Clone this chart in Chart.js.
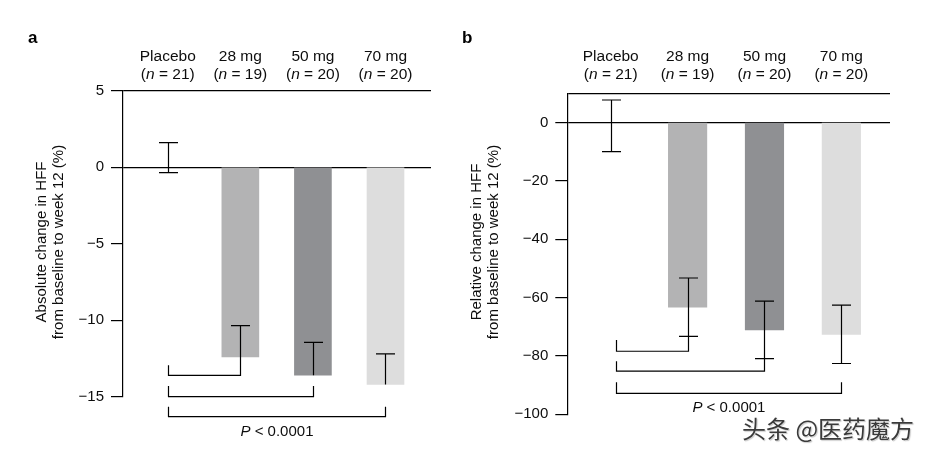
<!DOCTYPE html>
<html>
<head>
<meta charset="utf-8">
<script src="https://cdn.jsdelivr.net/npm/chart.js@4"></script>
<style>
  body { margin: 0; background: #fff; width: 927px; height: 454px; position: relative; overflow: hidden; }
  canvas { position: absolute; top: 0; }
  #chart-a { left: 0; }
  #chart-b { left: 450px; }
  #mark {
    position: absolute; left: 742px; top: 414px;
    font: 24px "Noto Sans CJK SC", sans-serif; line-height: 28px;
    color: #3a3a3a; text-shadow: 0 0 2px #fff, 1px 1px 1px #bbb;
    white-space: nowrap;
  }
</style>
</head>
<body>
<canvas id="chart-a" width="450" height="454" style="width:450px;height:454px"></canvas>
<canvas id="chart-b" width="477" height="454" style="width:477px;height:454px"></canvas>
<div id="mark">头条 @医药魔方</div>
<script>
// groups shown above the bars
const groups = ['Placebo', '28 mg', '50 mg', '70 mg'];
const groupN = [21, 19, 20, 20];
const barColors = ['rgba(0,0,0,0)', '#b3b3b4', '#8f9093', '#dddddd'];

// panel a: absolute change in HFF (%)
const absMean = [0.63, -12.4, -13.6, -14.2];
const absErrUp = [0.98, 2.05, 2.15, 2.0];
const absErrDown = [0.98, 0, 0, 0];
const absTicks = [-15, -10, -5, 0, 5];
const absBracketLevel = [-13.6, -15.0, -16.3];
const absBracketLeftTop = [-12.95, -14.3, -15.65];
const absBracketRightTop = [-12.4, -14.3, -15.65];

// panel b: relative change in HFF (%)
const relMean = [-1.15, -63.3, -71.1, -72.6];
const relErrUp = [8.85, 10, 9.9, 10];
const relErrDown = [8.85, 10, 9.8, 10];
const relTicks = [-100, -80, -60, -40, -20, 0, 10];
const relBracketLevel = [-78.4, -85.2, -92.8];
const relBracketLeftTop = [-74.5, -81.8, -89];
const relBracketRightTop = [-73.3, -80.8, -89];

const FONT = '"Liberation Sans", Arial, sans-serif';
const INK = '#0d0d0d';
const minus = v => String(v).replace('-', '\u2212');

// error bars, comparison brackets, group labels, axis title
const panelPlugin = {
    id: 'panel',
    afterDatasetsDraw(chart, args, opts) {
        const ctx = chart.ctx;
        const xs = chart.scales.x;
        const ys = chart.scales.y;
        ctx.save();
        ctx.strokeStyle = '#000';
        ctx.lineWidth = 1.2;
        ctx.lineCap = 'butt';

        opts.mean.forEach((m, i) => {
            const x = Math.round(xs.getPixelForValue(i)) + 0.5;
            const yTop = ys.getPixelForValue(m + opts.errUp[i]);
            const yBot = ys.getPixelForValue(m - opts.errDown[i]);
            ctx.beginPath();
            ctx.moveTo(x, yTop);
            ctx.lineTo(x, yBot);
            ctx.moveTo(x - 9.5, yTop);
            ctx.lineTo(x + 9.5, yTop);
            if (opts.errDown[i] > 0) {
                ctx.moveTo(x - 9.5, yBot);
                ctx.lineTo(x + 9.5, yBot);
            }
            ctx.stroke();
        });

        // brackets: placebo against each dose
        const x0 = Math.round(xs.getPixelForValue(0) + opts.bracketShift) + 0.5;
        opts.level.forEach((lv, k) => {
            const x1 = Math.round(xs.getPixelForValue(k + 1)) + 0.5;
            const y = ys.getPixelForValue(lv);
            ctx.beginPath();
            ctx.moveTo(x0, ys.getPixelForValue(opts.leftTop[k]));
            ctx.lineTo(x0, y);
            ctx.lineTo(x1, y);
            ctx.lineTo(x1, ys.getPixelForValue(opts.rightTop[k]));
            ctx.stroke();
        });

        // P value under the widest bracket
        const last = opts.level.length;
        const pc = (x0 + xs.getPixelForValue(last)) / 2;
        const py = ys.getPixelForValue(opts.level[last - 1]) + 15;
        ctx.fillStyle = INK;
        ctx.textBaseline = 'middle';
        ctx.textAlign = 'left';
        ctx.font = 'italic 15px ' + FONT;
        const wP = ctx.measureText('P').width;
        ctx.font = '15px ' + FONT;
        const rest = ' < 0.0001';
        const wR = ctx.measureText(rest).width;
        let px = pc - (wP + wR) / 2;
        ctx.font = 'italic 15px ' + FONT;
        ctx.fillText('P', px, py);
        ctx.font = '15px ' + FONT;
        ctx.fillText(rest, px + wP, py);

        // group labels above the plot
        groups.forEach((g, i) => {
            const cx = xs.getPixelForValue(i);
            ctx.font = '15.5px ' + FONT;
            ctx.textAlign = 'center';
            ctx.fillText(g, cx, 57);
            const parts = [['(', false], ['n', true], [' = ' + groupN[i] + ')', false]];
            let w = 0;
            parts.forEach(p => {
                ctx.font = (p[1] ? 'italic ' : '') + '15.5px ' + FONT;
                w += ctx.measureText(p[0]).width;
            });
            let tx = cx - w / 2;
            ctx.textAlign = 'left';
            parts.forEach(p => {
                ctx.font = (p[1] ? 'italic ' : '') + '15.5px ' + FONT;
                ctx.fillText(p[0], tx, 75);
                tx += ctx.measureText(p[0]).width;
            });
        });

        // panel letter
        ctx.font = 'bold 17px ' + FONT;
        ctx.textAlign = 'left';
        ctx.fillStyle = '#000';
        ctx.fillText(opts.letter, opts.letterX, 38);

        // rotated y axis title
        ctx.fillStyle = INK;
        ctx.font = '15px ' + FONT;
        ctx.textAlign = 'center';
        opts.title.forEach((line, k) => {
            ctx.save();
            ctx.translate(opts.titleX[k], 242);
            ctx.rotate(-Math.PI / 2);
            ctx.fillText(line, 0, 0);
            ctx.restore();
        });
        ctx.restore();
    }
};

function makePanel(canvasId, cfg) {
    const ctx = document.getElementById(canvasId).getContext('2d');
    const top = cfg.ticks[cfg.ticks.length - 1];
    return new Chart(ctx, {
        type: 'bar',
        data: {
            datasets: [{
                data: cfg.mean.map((v, i) => ({ x: i, y: v })),
                backgroundColor: barColors,
                borderWidth: 0,
                barThickness: cfg.barThickness
            }]
        },
        options: {
            responsive: false,
            animation: false,
            layout: { padding: cfg.padding },
            plugins: {
                legend: { display: false },
                tooltip: { enabled: false },
                panel: {
                    mean: cfg.mean, errUp: cfg.errUp, errDown: cfg.errDown,
                    level: cfg.level, leftTop: cfg.leftTop, rightTop: cfg.rightTop,
                    bracketShift: cfg.bracketShift,
                    title: cfg.title, titleX: cfg.titleX,
                    letter: cfg.letter, letterX: cfg.letterX
                }
            },
            scales: {
                x: { type: 'linear', min: cfg.xMin, max: cfg.xMax, offset: false, display: false },
                y: {
                    min: cfg.ticks[0],
                    max: top,
                    afterBuildTicks: s => { s.ticks = cfg.ticks.map(v => ({ value: v })); },
                    afterFit: s => { s.width = cfg.axisWidth; },
                    border: { display: true, color: '#000', width: 1.2 },
                    grid: {
                        lineWidth: 1.2,
                        tickLength: 12,
                        color: c => (c.tick && (c.tick.value === 0 || c.tick.value === top)) ? '#000' : 'rgba(0,0,0,0)',
                        tickColor: c => (c.tick && c.tick.value === top && cfg.hideTop) ? 'rgba(0,0,0,0)' : '#000'
                    },
                    ticks: {
                        padding: 7,
                        color: INK,
                        font: { family: FONT, size: 15 },
                        callback: v => (v === top && cfg.hideTop) ? '' : minus(v)
                    }
                }
            }
        },
        plugins: [panelPlugin]
    });
}

makePanel('chart-a', {
    mean: absMean, errUp: absErrUp, errDown: absErrDown, ticks: absTicks,
    level: absBracketLevel, leftTop: absBracketLeftTop, rightTop: absBracketRightTop,
    bracketShift: 0,
    xMin: -0.617, xMax: 3.627, barThickness: 37,
    axisWidth: 123, padding: { left: 0, top: 90.7, right: 19, bottom: 57.3 },
    hideTop: false,
    title: ['Absolute change in HFF', 'from baseline to week 12 (%)'], titleX: [42, 59],
    letter: 'a', letterX: 28
});

makePanel('chart-b', {
    mean: relMean, errUp: relErrUp, errDown: relErrDown, ticks: relTicks,
    level: relBracketLevel, leftTop: relBracketLeftTop, rightTop: relBracketRightTop,
    bracketShift: 5,
    xMin: -0.565, xMax: 3.633, barThickness: 38.5,
    axisWidth: 117.3, padding: { left: 0, top: 93.3, right: 37, bottom: 39.7 },
    hideTop: true,
    title: ['Relative change in HFF', 'from baseline to week 12 (%)'], titleX: [27, 44],
    letter: 'b', letterX: 12
});
</script>
</body>
</html>
